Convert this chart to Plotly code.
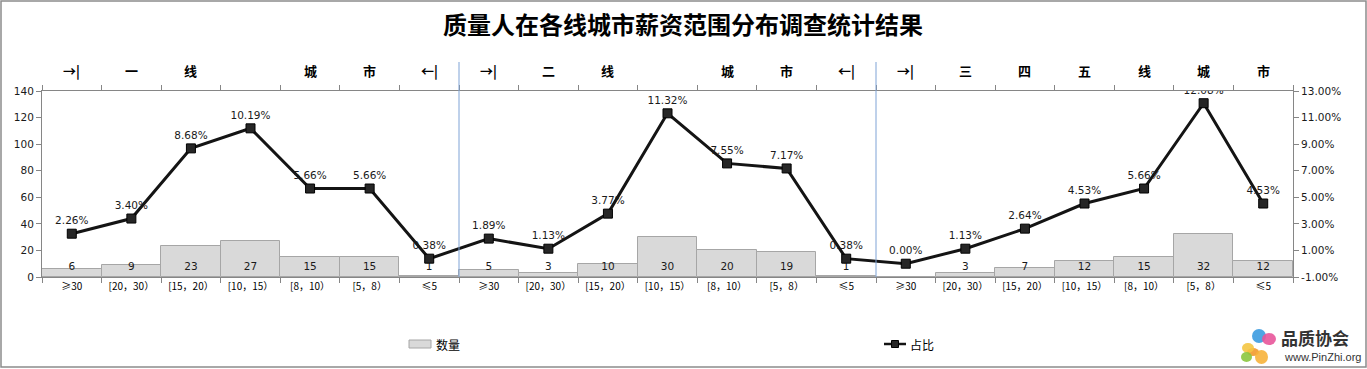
import plotly.graph_objects as go

# ---------------- data ----------------
categories = ["≥30", "[20，30）", "[15，20）", "[10，15）", "[8，10）", "[5，8）", "≤5",
              "≥30", "[20，30）", "[15，20）", "[10，15）", "[8，10）", "[5，8）", "≤5",
              "≥30", "[20，30）", "[15，20）", "[10，15）", "[8，10）", "[5，8）", "≤5"]
counts = [6, 9, 23, 27, 15, 15, 1,
          5, 3, 10, 30, 20, 19, 1,
          0, 3, 7, 12, 15, 32, 12]
shares = [2.26, 3.40, 8.68, 10.19, 5.66, 5.66, 0.38,
          1.89, 1.13, 3.77, 11.32, 7.55, 7.17, 0.38,
          0.00, 1.13, 2.64, 4.53, 5.66, 12.08, 4.53]
group_header = ["→|", "一", "线", "", "城", "市", "←|",
                "→|", "二", "线", "", "城", "市", "←|",
                "→|", "三", "四", "五", "线", "城", "市"]
series_names = ["数量", "占比"]
title_text = "质量人在各线城市薪资范围分布调查统计结果"
left_ticks = [0, 20, 40, 60, 80, 100, 120, 140]
right_ticks = [-1, 1, 3, 5, 7, 9, 11, 13]

# ---------------- layout geometry ----------------
W, H = 1367, 369
L, R, T, B = 42, 1293, 91, 277
def px(xp):
    return (xp - L) / (R - L)
def py(yp):
    return (B - yp) / (B - T)

n = len(categories)
xs = list(range(n))
bounds = [i - 0.5 for i in range(n + 1)]
CJK = "Noto Sans CJK SC"
NUM = "DejaVu Sans"
AX = "#868686"
BAR_FILL, BAR_LINE = "#d9d9d9", "#a6a6a6"
LINE_C = "#141414"

fig = go.Figure()

fig.add_trace(go.Bar(
    x=xs, y=counts, name=series_names[0], width=1.0,
    marker=dict(color=BAR_FILL, line=dict(color=BAR_LINE, width=1)),
    xaxis="x", yaxis="y", hoverinfo="skip", showlegend=False,
))
# bar value labels near the base of each bar
fig.add_trace(go.Scatter(
    x=xs, y=[7.5] * n, mode="text",
    text=[str(c) if c else "" for c in counts],
    textfont=dict(family=NUM, size=10.5, color="#1a1a1a"),
    textposition="middle center", showlegend=False,
    xaxis="x", yaxis="y", hoverinfo="skip",
))
fig.add_trace(go.Scatter(
    x=xs, y=shares, name=series_names[1], mode="lines+markers+text",
    line=dict(color=LINE_C, width=3),
    marker=dict(symbol="square", size=9, color="#262626", line=dict(color="#000", width=1)),
    text=[f"{v:.2f}%" for v in shares], textposition="top center",
    textfont=dict(family=NUM, size=10.5, color="#1a1a1a"),
    xaxis="x2", yaxis="y2", hoverinfo="skip", showlegend=False,
))

shapes = []
# divider lines
for bx in (6.5, 13.5):
    shapes.append(dict(type="line", xref="x", yref="paper", x0=bx, x1=bx,
                       y0=0, y1=py(62), line=dict(color="#7fa3d6", width=1)))
# outer chart border
shapes.append(dict(type="rect", xref="paper", yref="paper",
                   x0=px(1), x1=px(1366), y0=py(367), y1=py(1),
                   line=dict(color="#8c8c8c", width=1.5)))
# legend keys
shapes.append(dict(type="rect", xref="paper", yref="paper",
                   x0=px(409), x1=px(431), y0=py(348), y1=py(340),
                   fillcolor=BAR_FILL, line=dict(color=BAR_LINE, width=1)))
shapes.append(dict(type="line", xref="paper", yref="paper",
                   x0=px(884), x1=px(906), y0=py(344), y1=py(344),
                   line=dict(color=LINE_C, width=2.5)))
shapes.append(dict(type="rect", xref="paper", yref="paper",
                   x0=px(891.5), x1=px(898.5), y0=py(347.5), y1=py(340.5),
                   fillcolor="#262626", line=dict(color="#000", width=1)))
# logo petals
petals = [((1247, 348), (1259, 356), "#f29a2e"),
          ((1252, 329), (1266, 343), "#3b9be0"),
          ((1242, 343), (1254, 353), "#f4c542"),
          ((1262, 333), (1276, 345), "#e8559a"),
          ((1255, 350), (1268, 364), "#f7b23b"),
          ((1241, 352), (1252, 362), "#8cc63f")]
for (x0, y0), (x1, y1), c in petals:
    shapes.append(dict(type="circle", xref="paper", yref="paper",
                       x0=px(x0), x1=px(x1), y0=py(y1), y1=py(y0),
                       fillcolor=c, line=dict(width=0), opacity=0.9))

annotations = []
for i, h in enumerate(group_header):
    if not h:
        continue
    annotations.append(dict(xref="x", yref="paper", x=i, y=py(70), text=f"<b>{h}</b>",
                            showarrow=False, font=dict(family=CJK, size=13, color="#000"),
                            xanchor="center", yanchor="middle"))
annotations.append(dict(xref="paper", yref="paper", x=px(434), y=py(344),
                        text=series_names[0], showarrow=False,
                        font=dict(family=CJK, size=12, color="#000"),
                        xanchor="left", yanchor="middle"))
annotations.append(dict(xref="paper", yref="paper", x=px(908), y=py(344),
                        text=series_names[1], showarrow=False,
                        font=dict(family=CJK, size=12, color="#000"),
                        xanchor="left", yanchor="middle"))
annotations.append(dict(xref="paper", yref="paper", x=px(1315), y=py(337),
                        text="<b>品质协会</b>", showarrow=False,
                        font=dict(family=CJK, size=17, color="#333"),
                        xanchor="center", yanchor="middle"))
annotations.append(dict(xref="paper", yref="paper", x=px(1363), y=py(357),
                        text="www.PinZhi.org", showarrow=False,
                        font=dict(family="Liberation Sans", size=11, color="#333"),
                        xanchor="right", yanchor="middle"))

fig.update_layout(
    width=W, height=H,
    margin=dict(l=L, r=W - R, t=T, b=H - B, autoexpand=False),
    paper_bgcolor="white", plot_bgcolor="white",
    title=dict(text=f"<b>{title_text}</b>", x=683 / W, xanchor="center", xref="container",
               y=1 - 26 / H, yanchor="middle",
               font=dict(family=CJK, size=24, color="#000")),
    bargap=0,
    showlegend=False,
    xaxis=dict(range=[-0.5, n - 0.5], tickvals=xs, ticktext=categories, ticks="",
               tickfont=dict(family=CJK, size=10, color="#000"), automargin=False,
               showline=True, linecolor=AX, linewidth=1, showgrid=False, zeroline=False,
               minor=dict(tickvals=bounds, ticks="outside", ticklen=5, tickcolor=AX, showgrid=False)),
    xaxis2=dict(range=[-0.5, n - 0.5], overlaying="x", side="top", anchor="y",
                tickvals=bounds, ticks="outside", ticklen=5, tickcolor=AX, automargin=False,
                showticklabels=False, showline=True, linecolor=AX, linewidth=1,
                showgrid=False, zeroline=False),
    yaxis=dict(range=[0, 140], tickvals=left_ticks, ticks="outside", ticklen=5, tickcolor=AX,
               showline=True, linecolor=AX, linewidth=1, showgrid=False, zeroline=False,
               automargin=False, tickfont=dict(family=NUM, size=10.5, color="#1a1a1a")),
    yaxis2=dict(range=[-1, 13], tickvals=right_ticks, ticktext=[f"{v:.2f}%" for v in right_ticks],
                overlaying="y", side="right", anchor="x2", ticks="outside", ticklen=5, tickcolor=AX,
                showline=True, linecolor=AX, linewidth=1, showgrid=False, zeroline=False,
                automargin=False, tickfont=dict(family=NUM, size=10.5, color="#1a1a1a")),
    shapes=shapes, annotations=annotations,
)

fig.write_html("out.html", config={"displayModeBar": False},
               post_script="document.body.style.margin='0';document.body.style.overflow='hidden';")
